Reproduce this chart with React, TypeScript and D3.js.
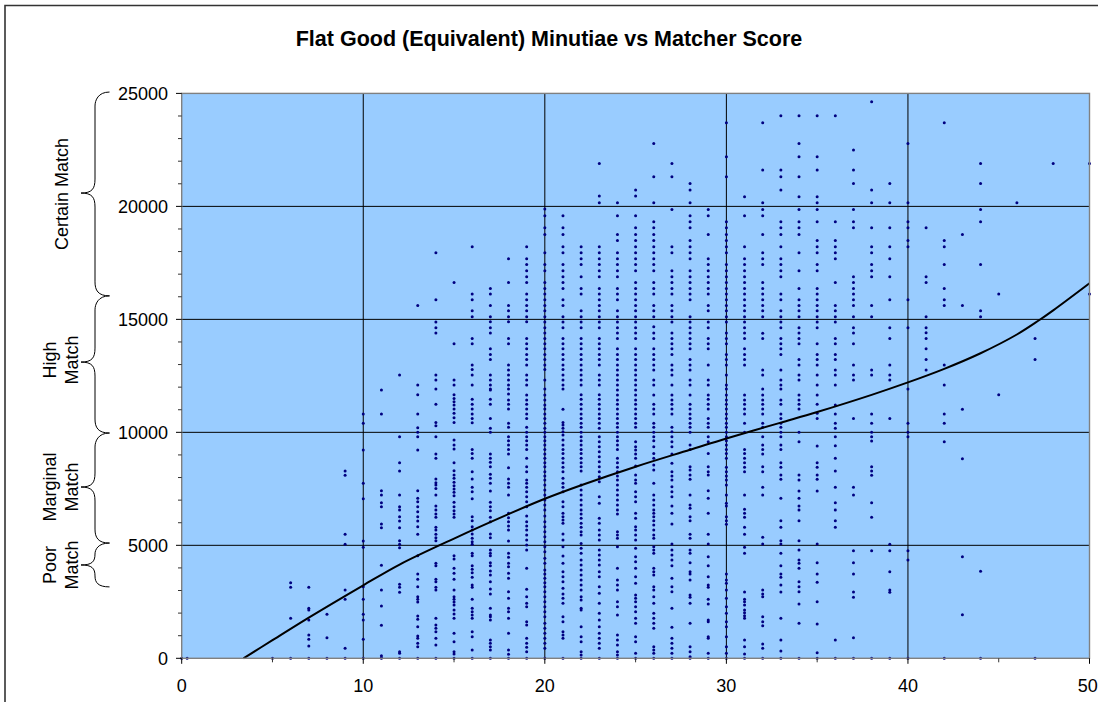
import React from "react";
import * as d3 from "d3";

const chartTitle = "Flat Good (Equivalent) Minutiae vs Matcher Score";
const xTicks = [0, 10, 20, 30, 40, 50];
const xMinorTicks = [5, 15, 25, 35, 45];
const yTicks = [0, 5000, 10000, 15000, 20000, 25000];
const yMinorTicks = [1000,2000,3000,4000,6000,7000,8000,9000,11000,12000,13000,14000,16000,17000,18000,19000,21000,22000,23000,24000];

const trendX = [3.4,5,7,10,12,15,18,20,22,25,28,30,33,35,38,40,42,44,46,47.2,48,50];
const trendY = [0,800,1800,3230,4150,5300,6380,7060,7660,8480,9230,9730,10430,10900,11660,12210,12810,13500,14330,14950,15400,16600];

const zeroScores = [0, 0.3, 5, 6];
const score6 = [3347,3140,1769];
const score7 = [3140,2211,2137,1694,1031,839,544,0];
const score8 = [1945,913,0];
const score9 = [8288,8096,5485,5043,3022,2609,441,0];
const score10 = [10810,10397,9217,7742,7063,5190,4910,3170,2609,1945,1694,839,0];
const score11 = [11872,10810,7417,7226,6886,6709,5942,5780,4113,3022,2314,1458,116,28,0];
const score12 = [12536,9807,8657,8288,7226,6709,6562,6267,6075,5780,5205,5043,4895,3273,3140,2919,294,220,0];
const score13 = [15618,12093,11666,10810,10205,9999,9807,9217,7417,7078,6931,6709,6488,6267,6075,5825,5485,4541,3730,3494,3170,2727,2609,2491,1871,1724,1400,987,883,661,514,0];
const score14 = [17949,15869,14881,14630,14394,12536,12314,11916,11238,10441,10294,9807,9040,8848,7934,7772,7668,7520,7226,6739,6562,6385,6237,5795,5677,5485,5338,5205,4202,4099,3494,3390,3140,3022,1768,1473,1325,1178,883,588,0];
const score15 = [16636,13922,12314,12093,11666,11503,11356,11208,11031,10840,10648,10441,9660,9438,9261,8657,8302,8111,7963,7786,7638,7491,7344,7196,6901,6709,6532,6385,6237,4541,4394,3981,3760,3494,3022,2727,2609,2491,2358,2137,1960,1768,1104,733,294,191,0];
const score16 = [18214,16120,15869,15382,15117,14158,13922,12978,12786,12536,12093,11459,11238,11031,10810,10618,10426,9246,9069,8848,8258,7934,7565,7373,7063,6267,6090,5825,5677,5500,5308,5161,5043,4644,4541,4099,3937,3789,3582,3243,3140,2609,2211,2063,1916,1768,1178,957,367,0];
const score17 = [16371,16120,15618,15117,14896,14630,14394,13701,13450,13229,12536,12314,12093,11916,11872,11459,11238,10618,10176,9999,9040,8848,8671,8480,8140,7963,7742,7403,6901,6709,6532,6237,6045,5500,5338,4792,4644,4541,4231,4099,3863,3686,3390,3066,2845,2211,1916,1842,1694,811,661,514,367,0];
const score18 = [17683,16636,15618,15382,15117,14896,14158,13922,12978,12757,12536,12314,12093,11916,11695,11429,11238,11031,10397,10220,9807,9630,9438,9246,9040,8435,7934,7742,7565,7226,6414,6222,6045,5854,5677,5190,4644,4467,4202,4054,3760,3539,2948,2653,2211,2063,1768,1104,367,175,0];
const score19 = [18214,17683,17433,17152,16887,16636,16120,15869,15618,15382,15117,14896,14158,13922,13701,13450,13229,12978,12536,12314,12093,11651,11429,11238,11031,10810,10618,10220,9999,9807,9630,9438,9246,8848,8480,8258,7889,7742,7565,7373,7152,6931,6709,6296,6045,5854,5677,5456,5234,5013,4792,3981,3052,2727,2432,2284,1620,1473,883,661,485,294,0];
const score20 = [19881,19586,19055,18760,17949,17433,17152,16636,16371,16120,15869,15618,15382,15117,14881,14630,14394,14158,13922,13701,13450,13229,12978,12786,12314,11916,11651,11429,11208,11031,10810,10618,10397,10176,9999,9807,9630,9438,9246,9040,8848,8657,8480,8258,8067,7889,7668,7447,7226,7004,6783,6562,6296,6045,5825,5603,5382,5161,4940,4718,4423,4202,3907,3730,3539,3346,3170,2948,2727,2506,2284,2063,1842,1547,1325,1104,883,661,441,0];
const score21 = [19586,19055,18760,18214,17949,17433,17152,16887,16636,16371,15869,15618,15117,14881,14630,14158,13922,13701,13450,13229,12978,12786,12536,12314,12093,11916,11017,10441,10323,10176,10028,9881,9660,9438,9246,9069,8848,8657,8450,8258,7963,7742,7565,7373,6931,6709,6414,6267,6120,5972,5500,5234,4940,4527,4202,3833,3612,3390,3095,2845,2653,2432,1842,1620,1178,1031,883,0];
const score22 = [18214,17949,17683,17433,16887,16371,16120,15382,15117,14881,14630,14158,13922,13701,13450,13229,12978,12757,12536,12314,12093,11666,11459,11238,11031,10810,10618,10397,10220,9999,9807,9630,9438,9246,9069,8848,8657,8480,8288,7668,7447,7226,7004,6783,6562,6385,6193,5972,5795,5603,5456,5086,4866,4644,4350,4129,3907,3686,3465,3243,3022,2727,2580,2211,2137,1400,957,733,294,146,0];
const score23 = [21902,20456,20161,18214,17949,17683,17433,17152,16887,16371,16120,15869,15618,15382,15117,14881,14630,14158,13922,13701,13450,13229,12978,12536,12314,12093,11666,11459,11238,11031,10810,10618,10397,10176,9807,9586,9364,9143,8922,8700,8480,8258,8037,7816,7152,6857,6193,5972,5677,5456,5234,4792,4571,4350,4129,3833,3612,3170,2875,2432,1990,1694,1400,1104,883,661,441,0];
const score24 = [20161,19586,18760,18495,17949,17683,17433,17152,16887,16371,16120,15869,15382,15117,14881,14630,14394,14158,13701,13450,13229,12978,12757,12536,12314,12093,11872,11651,11429,11238,11031,10810,10618,10397,10220,9999,9807,9630,9438,9246,8848,8657,8450,8258,8067,7889,7668,7447,7226,7004,6783,6562,6385,5603,5456,5308,4940,3981,3465,3243,3022,2506,2284,1916,1031,811,588,294,146,0];
const score25 = [20722,20456,19586,19055,18760,18495,18214,17949,17683,17433,17152,16636,16371,16120,15869,15618,15382,15117,14881,14630,14394,14158,13701,13450,13229,12978,12757,12536,12314,12093,11872,11651,11429,11238,11031,10810,10618,10397,10220,9586,9364,9217,9040,8848,8509,8111,7889,7742,7373,7152,6931,6414,6193,5825,5677,5456,5234,4866,4497,4276,3981,3612,3317,2801,2653,2506,2284,2063,1768,1547,957,733,219,0];
const score26 = [22787,21312,20161,19321,19055,18760,18495,18214,17949,17683,17433,17152,16636,16371,16120,15618,15382,15117,14674,14394,14158,13701,13450,13229,12978,12757,12314,12093,11651,11238,11031,10810,10397,10220,9999,9807,9630,9364,9069,8848,8553,8332,7742,7226,7004,6783,6562,6414,6267,6090,5898,5677,5456,5308,4940,4792,4644,3981,3833,3686,3170,3022,2727,2432,1990,1768,1547,1325,514,367,219,0];
const score27 = [21902,21312,19867,18214,17949,17152,16887,16636,16371,16120,15618,15382,15117,14881,14394,14158,13922,13701,13450,12978,12757,12536,12093,11651,11429,11238,11031,10810,10220,10028,9807,9586,9364,9040,8627,8258,8067,7889,7594,7373,7152,6739,6414,5942,5057,4792,4571,4350,4099,3539,3170,2948,2211,1370,883,661,441,219,0];
const score28 = [21017,20722,20161,19586,19321,19055,18495,18214,17949,17683,17152,16887,16636,16371,16120,15869,15117,14881,14630,14394,14158,13922,13701,13229,12978,12757,12314,12093,11651,11238,11031,10810,10618,10397,10220,9999,9438,9246,8480,8332,8111,7919,7226,6783,6636,6267,6090,5485,5308,4792,4644,4231,3833,3730,3465,2801,2698,2432,1547,514,294,72,0];
const score29 = [19867,19586,18760,17683,17433,17152,16887,16636,16371,16120,15618,15382,14881,14630,14158,13922,13701,12978,12314,12093,11651,11459,11238,11031,10618,10397,10220,9807,9586,9069,8480,8258,8111,7417,7078,6414,5485,5057,4497,4099,3612,3243,3140,2609,2402,1694,1620,957,883,219,0];
const score30 = [23701,22197,21312,19321,19055,18760,18495,18214,17949,17433,17152,16887,16636,16371,16120,15869,15618,15382,15117,14881,14394,14158,13922,13450,13229,12978,12536,12093,11916,11651,11429,11238,11031,10810,10618,10397,10220,9999,9807,9630,9438,9246,9069,8848,8450,8258,8067,7889,7668,7226,6857,6739,6267,6090,5928,3730,3465,3317,3022,2653,2284,1990,1620,1400,957,514,219,0];
const score31 = [20427,19586,18214,17683,17433,17152,16887,16636,16371,16120,15869,15618,15382,15117,14881,14630,14394,14158,13701,13450,13229,12978,11651,11429,11238,11031,10810,10397,9999,9246,9069,8848,8657,8450,8258,7226,6591,6414,6237,5795,5485,4910,4644,2933,2609,2506,2358,2137,2019,1886,1768,811,514,190,0];
const score32 = [23701,21607,20161,19867,19586,18760,17949,17683,17433,16636,16371,16120,15869,15618,15382,15117,14380,14158,12757,12536,11916,11651,11429,11238,11031,10810,10397,10220,9807,9438,9246,9040,8480,8258,7565,7226,5352,5057,3022,2845,2727,1842,1620,1444,632,441,0];
const score33 = [24011,21607,21312,20722,19321,19055,18760,18214,17683,17433,17152,16887,16120,15869,15382,15117,14881,14630,14158,13922,13701,13450,12757,12314,12093,11916,11429,11238,10810,10618,10397,10220,9999,9807,9438,9246,8657,8450,8111,7919,7078,6090,5795,5205,5057,4644,4099,3730,3583,3243,2933,1768,811,323,0];
const score34 = [24011,22787,22197,21312,20427,19867,19321,19055,18760,17949,17152,16371,15869,15618,15382,15117,14630,14394,14158,13922,13229,12978,12536,12314,11651,11429,11238,11031,9999,9586,8111,7889,7403,7078,6739,6562,6090,5205,4792,4350,4202,3981,3390,3170,2948,2402,1547,0];
const score35 = [24011,22197,21607,20427,20161,19867,19321,18495,18214,17949,17433,17152,16371,16120,15869,15618,15382,15117,14881,14630,13922,13450,13229,12978,12536,12093,11651,11238,10840,10618,9394,8657,8450,8111,7919,7403,5057,4231,3730,3361,2506,1517,249,0];
const score36 = [24011,19321,18495,18214,17949,17683,16636,15618,15382,15117,14881,14158,13922,13450,13229,12757,12536,12093,11208,10810,10397,10176,9807,9409,8848,8288,7565,6886,6562,6090,5795,811,0];
const score37 = [22492,21607,21017,19867,19321,19055,16887,16636,16371,16120,15869,15618,15117,14630,14394,13922,12978,12536,12314,10618,7565,7226,4762,4231,3730,2933,2698,913,0];
const score38 = [24631,20722,20161,19055,18214,17949,17433,17152,16887,15618,15117,12757,12536,10810,10397,9999,9807,9615,8480,8288,8096,6886,6237,4762,0];
const score39 = [21017,20161,19055,18214,17683,16887,15869,14630,14158,12978,12536,12314,10618,5043,4762,3833,3022,2919,0];
const score40 = [22787,20161,19321,19055,18495,18214,15869,14630,11916,10397,9999,9807,4762,4350,0];
const score41 = [19055,16887,16636,15117,14630,14409,14158,13701,13229,12757];
const score42 = [23701,18495,18214,17433,16371,15869,15618,12978,12093,10810,10397,9586,0];
const score43 = [18760,15618,11017,8834,4497,1930];
const score44 = [21902,21017,19867,19321,17433,15382,15117,3848,0];
const score45 = [16120,11666];
const score46 = [20161];
const score47 = [14158,13229,0];
const score48 = [21902];
const score50 = [21902,16120];

const columns: [number, number[]][] = [
  [6,score6],[7,score7],[8,score8],[9,score9],[10,score10],[11,score11],[12,score12],[13,score13],[14,score14],[15,score15],
  [16,score16],[17,score17],[18,score18],[19,score19],[20,score20],[21,score21],[22,score22],[23,score23],[24,score24],[25,score25],
  [26,score26],[27,score27],[28,score28],[29,score29],[30,score30],[31,score31],[32,score32],[33,score33],[34,score34],[35,score35],
  [36,score36],[37,score37],[38,score38],[39,score39],[40,score40],[41,score41],[42,score42],[43,score43],[44,score44],[45,score45],
  [46,score46],[47,score47],[48,score48],[50,score50],
];

const bandTop = [25060, 16040, 9970, 5100];
const bandTip = [20590, 13110, 7580, 4130];
const bandBottom = [16040, 9970, 5100, 3160];
const bandLines = [["Certain Match"], ["High", "Match"], ["Marginal", "Match"], ["Poor", "Match"]];

const FONT = "'Liberation Sans', Arial, sans-serif";
const plot = { left: 181.7, right: 1089.5, top: 93.4, bottom: 658.3 };

const x = d3.scaleLinear().domain([0, 50]).range([plot.left, plot.right]);
const y = d3.scaleLinear().domain([0, 25000]).range([plot.bottom, plot.top]);

const trendPath = d3.line<number>().x((_, i) => x(trendX[i])).y((v) => y(v)).curve(d3.curveCatmullRom.alpha(0.5))(trendY) || "";

function bracePath(top: number, tip: number, bottom: number) {
  const endX = 109.5, spine = 95, tipX = 81;
  const a = y(top), t = y(tip), b = y(bottom);
  const r = Math.min(14, (t - a) / 2);
  const s = Math.min(14, (b - t) / 2);
  return `M${endX},${a} C${spine + 3},${a} ${spine},${a + r * 0.6} ${spine},${a + r}`
    + ` L${spine},${t - r} C${spine},${t - r * 0.3} ${spine - 3},${t} ${tipX},${t}`
    + ` C${spine - 3},${t} ${spine},${t + s * 0.3} ${spine},${t + s}`
    + ` L${spine},${b - s} C${spine},${b - s * 0.4} ${spine + 3},${b} ${endX},${b}`;
}

const bandBaselines = [[68], [56, 78], [56, 78], [56, 78]];
const bandCenters = [194, 360, 487, 565];

export default function App() {
  return (
    <svg width={1098} height={702} style={{ position: "fixed", left: 0, top: 0, display: "block", background: "#fff" }} fontFamily={FONT}>
      <path d="M1098,5.5 H5 V702" fill="none" stroke="#333" strokeWidth={1.6} />
      <text x={549} y={45.5} textAnchor="middle" fontSize={21.5} fontWeight="bold" fill="#000">{chartTitle}</text>

      <rect x={plot.left} y={plot.top} width={plot.right - plot.left} height={plot.bottom - plot.top} fill="#99ccff" />
      {yTicks.slice(1, 5).map((t) => (
        <line key={t} x1={plot.left} x2={plot.right} y1={y(t)} y2={y(t)} stroke="#000" strokeWidth={1} />
      ))}
      {xTicks.slice(1, 5).map((t) => (
        <line key={t} x1={x(t)} x2={x(t)} y1={plot.top} y2={plot.bottom} stroke="#000" strokeWidth={1} />
      ))}

      <g fill="#000080">
        {columns.flatMap(([score, values]) =>
          values.map((v, i) => <circle key={`${score}-${i}`} cx={x(score)} cy={y(v)} r={1.5} />)
        )}
        {zeroScores.map((s) => <circle key={s} cx={x(s)} cy={y(0)} r={1.5} />)}
      </g>

      <path d={trendPath} fill="none" stroke="#000" strokeWidth={2} />
      <rect x={plot.left} y={plot.top} width={plot.right - plot.left} height={plot.bottom - plot.top} fill="none" stroke="#808080" strokeWidth={1.4} />

      {yTicks.map((t) => (
        <g key={t}>
          <line x1={176} x2={plot.left} y1={y(t)} y2={y(t)} stroke="#000" strokeWidth={1} />
          <text x={168} y={y(t) + 6.5} textAnchor="end" fontSize={18} fill="#000">{t}</text>
        </g>
      ))}
      {yMinorTicks.map((t) => (
        <line key={t} x1={178} x2={plot.left} y1={y(t)} y2={y(t)} stroke="#333" strokeWidth={1} />
      ))}
      {xTicks.map((t) => (
        <g key={t}>
          <line x1={x(t)} x2={x(t)} y1={plot.bottom} y2={plot.bottom + 5.5} stroke="#000" strokeWidth={1} />
          <text x={Math.min(x(t), 1087.8)} y={691.5} textAnchor="middle" fontSize={18} fill="#000">{t}</text>
        </g>
      ))}
      {xMinorTicks.map((t) => (
        <line key={t} x1={x(t)} x2={x(t)} y1={plot.bottom} y2={plot.bottom + 4} stroke="#333" strokeWidth={1} />
      ))}

      {bandLines.map((lines, i) => (
        <g key={i}>
          <path d={bracePath(bandTop[i], bandTip[i], bandBottom[i])} fill="none" stroke="#000" strokeWidth={1} />
          {lines.map((line, j) => (
            <text key={line} transform={`translate(${bandBaselines[i][j]},${bandCenters[i]}) rotate(-90)`} textAnchor="middle" fontSize={18} fill="#000">{line}</text>
          ))}
        </g>
      ))}
    </svg>
  );
}
